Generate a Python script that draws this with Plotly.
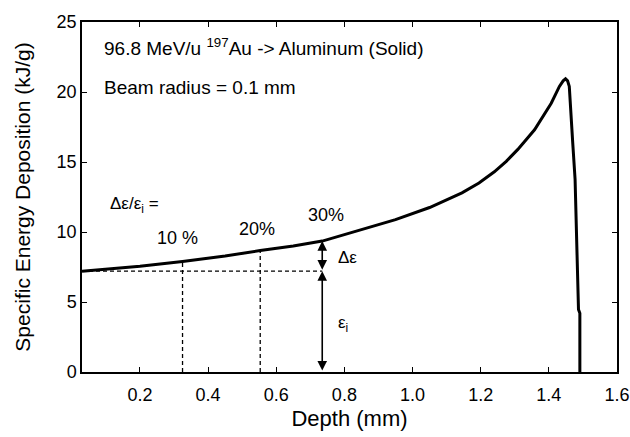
import plotly.graph_objects as go

# Curve data (depth mm, specific energy deposition kJ/g)
depth = [0.03, 0.1, 0.2, 0.325, 0.45, 0.553, 0.65, 0.735, 0.85, 0.95, 1.05, 1.145,
         1.195, 1.24, 1.275, 1.309, 1.358, 1.407, 1.431, 1.442, 1.449, 1.455, 1.460,
         1.465, 1.470, 1.477, 1.483, 1.487, 1.491, 1.491]
energy = [7.2, 7.35, 7.55, 7.9, 8.28, 8.68, 9.0, 9.35, 10.15, 10.88, 11.75, 12.8,
          13.5, 14.3, 15.05, 15.9, 17.3, 19.2, 20.4, 20.8, 20.94, 20.8, 20.4,
          18.75, 16.4, 13.75, 8.75, 4.46, 4.2, 0.0]

eps_i = 7.2
marker_depths = [0.325, 0.553, 0.735]
marker_energy = [7.9, 8.68, 9.35]
pct_labels = ["10 %", "20%", "30%"]
pct_pos = [(0.311, 9.6), (0.545, 10.25), (0.746, 11.25)]

x_ticks = [0.2, 0.4, 0.6, 0.8, 1.0, 1.2, 1.4, 1.6]
x_tick_text = ["0.2", "0.4", "0.6", "0.8", "1.0", "1.2", "1.4", "1.6"]
y_ticks = [0, 5, 10, 15, 20, 25]

FONT = "Liberation Sans, Arial, Helvetica, sans-serif"

fig = go.Figure()

# dashed guide lines
fig.add_trace(go.Scatter(x=[depth[0], marker_depths[2]], y=[eps_i, eps_i], mode="lines",
                         line=dict(color="black", width=1.3, dash="4px,3px"),
                         showlegend=False, hoverinfo="skip"))
for xd, yd in zip(marker_depths[:2], marker_energy[:2]):
    fig.add_trace(go.Scatter(x=[xd, xd], y=[0, yd], mode="lines",
                             line=dict(color="black", width=1.3, dash="4px,3px"),
                             showlegend=False, hoverinfo="skip"))

fig.add_trace(go.Scatter(x=depth, y=energy, mode="lines",
                         line=dict(color="black", width=3),
                         showlegend=False))

annotations = []
# double-headed arrows
for (y0, y1) in [(eps_i, marker_energy[2]), (0, eps_i)]:
    annotations.append(dict(x=marker_depths[2], y=y1, ax=marker_depths[2], ay=y0,
                            xref="x", yref="y", axref="x", ayref="y",
                            showarrow=True, arrowhead=2, startarrowhead=2,
                            arrowside="end+start", arrowsize=1.2, startarrowsize=1.2,
                            arrowwidth=1.6, arrowcolor="black", text=""))

annotations.append(dict(x=0.09, y=23.2, xref="x", yref="y", xanchor="left", yanchor="middle",
                        text="96.8 MeV/u <sup>197</sup>Au -> Aluminum (Solid)", showarrow=False,
                        font=dict(size=19, color="black", family=FONT)))
annotations.append(dict(x=0.09, y=20.35, xref="x", yref="y", xanchor="left", yanchor="middle",
                        text="Beam radius = 0.1 mm", showarrow=False,
                        font=dict(size=19, color="black", family=FONT)))
annotations.append(dict(x=0.107, y=11.96, xref="x", yref="y", xanchor="left", yanchor="middle",
                        text="Δε/ε<sub>i</sub> =", showarrow=False,
                        font=dict(size=17, color="black", family=FONT)))
for t, (px, py) in zip(pct_labels, pct_pos):
    annotations.append(dict(x=px, y=py, xref="x", yref="y", xanchor="center", yanchor="middle",
                            text=t, showarrow=False,
                            font=dict(size=18, color="black", family=FONT)))
annotations.append(dict(x=0.776, y=8.18, xref="x", yref="y", xanchor="left", yanchor="middle",
                        text="Δε", showarrow=False,
                        font=dict(size=17, color="black", family=FONT)))
annotations.append(dict(x=0.776, y=3.4, xref="x", yref="y", xanchor="left", yanchor="middle",
                        text="ε<sub>i</sub>", showarrow=False,
                        font=dict(size=17, color="black", family=FONT)))

fig.update_layout(
    width=630, height=437,
    margin=dict(l=82, r=13, t=22, b=65),
    paper_bgcolor="white", plot_bgcolor="white",
    font=dict(family=FONT, color="black", size=18),
    annotations=annotations,
    xaxis=dict(range=[0.03, 1.6], tickvals=x_ticks, ticktext=x_tick_text,
               ticks="inside", ticklen=5, tickwidth=1, tickcolor="black",
               showline=True, linecolor="black", linewidth=1.5, mirror="ticks",
               showgrid=False, zeroline=False, ticklabelstandoff=6, automargin=False,
               title=dict(text="Depth (mm)", font=dict(size=22), standoff=6),
               tickfont=dict(size=18)),
    yaxis=dict(range=[0, 25], tickvals=y_ticks,
               ticks="inside", ticklen=5, tickwidth=1, tickcolor="black",
               showline=True, linecolor="black", linewidth=1.5, mirror="ticks",
               showgrid=False, zeroline=False, automargin=False,
               title=dict(text="Specific Energy Deposition (kJ/g)", font=dict(size=21), standoff=20),
               tickfont=dict(size=18)),
)

fig.write_html("out.html")
